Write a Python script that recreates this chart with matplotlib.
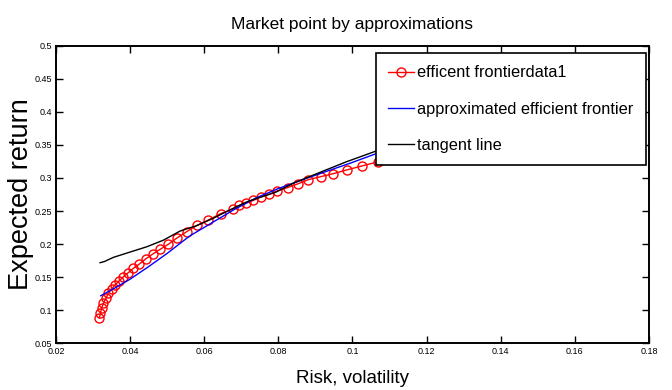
import matplotlib.pyplot as plt

# efficient frontier
frontier_risk = [0.0317, 0.0320, 0.0323, 0.0328, 0.0335, 0.0341, 0.0350, 0.0359, 0.0371,
                 0.0382, 0.0395, 0.0409, 0.0425, 0.0443, 0.0461, 0.0481, 0.0503, 0.0527,
                 0.0553, 0.0581, 0.0611, 0.0644, 0.0678, 0.0695, 0.0713, 0.0732, 0.0753,
                 0.0776, 0.0797, 0.0825, 0.0852, 0.0881, 0.0914, 0.0948, 0.0984, 0.1025,
                 0.1070, 0.1115]
frontier_ret = [0.0880, 0.0955, 0.1030, 0.1105, 0.1180, 0.1256, 0.1317, 0.1382, 0.1447,
                0.1507, 0.1568, 0.1634, 0.1699, 0.1780, 0.1850, 0.1921, 0.1997, 0.2095,
                0.2190, 0.2285, 0.2364, 0.2460, 0.2530, 0.2585, 0.2620, 0.2660, 0.2715,
                0.2755, 0.2805, 0.2855, 0.2910, 0.2975, 0.3020, 0.3065, 0.3121, 0.3181,
                0.3246, 0.3310]

approx_risk = [0.0321, 0.036, 0.040, 0.045, 0.050, 0.056, 0.062, 0.068, 0.074, 0.080,
               0.0876, 0.094, 0.0993, 0.1065, 0.113]
approx_ret = [0.122, 0.134, 0.147, 0.166, 0.186, 0.212, 0.232, 0.252, 0.270, 0.284,
              0.2995, 0.312, 0.3222, 0.337, 0.349]

tangent_risk = [0.0319, 0.0330, 0.0355, 0.0400, 0.0445, 0.0490, 0.0535, 0.0580, 0.0624,
                0.0670, 0.0715, 0.0795, 0.0840, 0.0910, 0.0984, 0.1070, 0.1130]
tangent_ret = [0.1719, 0.1735, 0.1800, 0.1880, 0.1960, 0.2060, 0.2198, 0.2280, 0.2390,
               0.2520, 0.2640, 0.2790, 0.2920, 0.3080, 0.3246, 0.3420, 0.3520]

x_ticks = [0.02, 0.04, 0.06, 0.08, 0.1, 0.12, 0.14, 0.16, 0.18]
y_ticks = [0.05, 0.1, 0.15, 0.2, 0.25, 0.3, 0.35, 0.4, 0.45, 0.5]

plt.rcParams["font.family"] = ["Liberation Sans", "DejaVu Sans"]

fig = plt.figure(figsize=(6.72, 3.9), dpi=100)
ax = fig.add_axes([0.0833, 0.1197, 0.8825, 0.7631])

ax.plot(frontier_risk, frontier_ret, color="red", lw=1, marker="o", ms=6.5,
        mfc="none", mec="red", mew=1, label="efficent frontierdata1")
ax.plot(approx_risk, approx_ret, color="blue", lw=1, label="approximated efficient frontier")
ax.plot(tangent_risk, tangent_ret, color="black", lw=1, label="tangent line")

ax.set_xlim(0.02, 0.18)
ax.set_ylim(0.05, 0.5)
ax.set_xticks(x_ticks)
ax.set_yticks(y_ticks)
ax.set_xticklabels(["%g" % v for v in x_ticks], fontsize=6.5)
ax.set_yticklabels(["%g" % v for v in y_ticks], fontsize=6.5)
ax.tick_params(direction="in", top=True, right=True, length=5, width=1, pad=3)
for s in ax.spines.values():
    s.set_linewidth(1.4)

ax.set_title("Market point by approximations", fontsize=12.5, pad=12)
ax.set_xlabel("Risk, volatility", fontsize=13.5, labelpad=10)
ax.set_ylabel("Expected return", fontsize=19.5, labelpad=0)

leg = ax.legend(loc="upper right", bbox_to_anchor=(0.9949, 0.9755),
                prop={"size": 11.8}, fancybox=False, framealpha=1,
                edgecolor="black", handlelength=1.6, handletextpad=0.2,
                borderpad=0.75, labelspacing=1.3, borderaxespad=0)
leg.get_frame().set_linewidth(1.2)

fig.savefig("out.png", dpi=100)
